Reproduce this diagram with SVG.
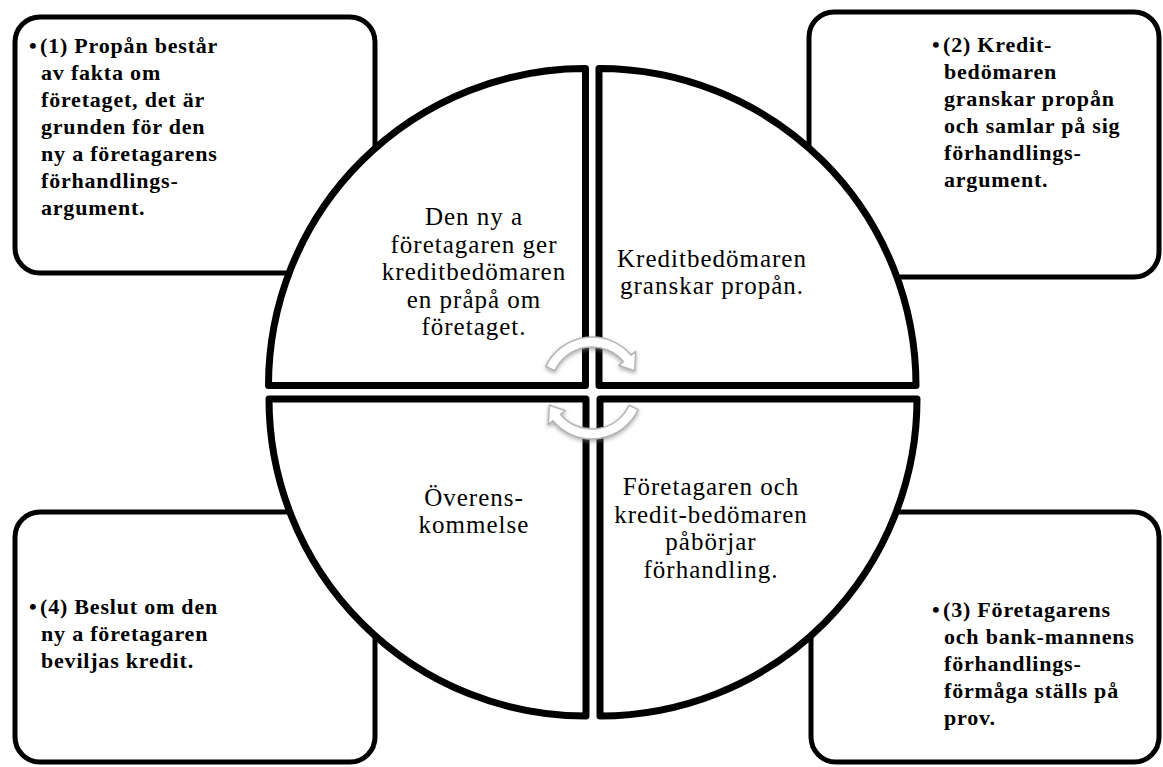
<svg xmlns="http://www.w3.org/2000/svg" width="1163" height="767" viewBox="0 0 1163 767">
<defs>
<style>
.box{fill:#fff;stroke:#000;stroke-width:5}
.quad{fill:#fff;stroke:#000;stroke-width:7;stroke-linejoin:round}
.bt{font-family:"Liberation Serif","Times New Roman",serif;font-weight:bold;font-size:22px;letter-spacing:0.8px;fill:#000}
.ct{font-family:"Liberation Serif","Times New Roman",serif;font-size:25px;letter-spacing:1px;fill:#000;text-anchor:middle}
.arr{fill:#fff;stroke:#b4b4b4;stroke-width:1.5;stroke-linejoin:round;filter:url(#sh)}
</style>
<filter id="sh" x="-30%" y="-30%" width="160%" height="160%">
<feDropShadow dx="0" dy="2" stdDeviation="2" flood-color="#777" flood-opacity="0.6"/>
</filter>
</defs>
<rect width="1163" height="767" fill="#fff"/>
<g id="box1">
<rect class="box" x="15" y="17" width="360" height="256" rx="25"/>
<text class="bt"><tspan x="29" y="53">•</tspan><tspan x="40" y="53">(1) Propån består</tspan><tspan x="41" y="80">av fakta om</tspan><tspan x="41" y="107">företaget, det är</tspan><tspan x="41" y="134">grunden för den</tspan><tspan x="41" y="161">ny a företagarens</tspan><tspan x="41" y="188">förhandlings-</tspan><tspan x="41" y="215">argument.</tspan></text>
</g>
<g id="box2">
<rect class="box" x="809" y="12" width="350" height="265" rx="25"/>
<text class="bt"><tspan x="932" y="52">•</tspan><tspan x="943" y="52">(2) Kredit-</tspan><tspan x="944" y="79">bedömaren</tspan><tspan x="944" y="106">granskar propån</tspan><tspan x="944" y="133">och samlar på sig</tspan><tspan x="944" y="160">förhandlings-</tspan><tspan x="944" y="187">argument.</tspan></text>
</g>
<g id="box4">
<rect class="box" x="15" y="512" width="360" height="250" rx="25"/>
<text class="bt"><tspan x="29" y="614">•</tspan><tspan x="40" y="614">(4) Beslut om den</tspan><tspan x="41" y="641">ny a företagaren</tspan><tspan x="41" y="668">beviljas kredit.</tspan></text>
</g>
<g id="box3">
<rect class="box" x="811" y="512" width="348" height="250" rx="25"/>
<text class="bt"><tspan x="932" y="617">•</tspan><tspan x="943" y="617">(3) Företagarens</tspan><tspan x="944" y="644">och bank-mannens</tspan><tspan x="944" y="671">förhandlings-</tspan><tspan x="944" y="698">förmåga ställs på</tspan><tspan x="944" y="725">prov.</tspan></text>
</g>
<g id="q1">
<path class="quad" d="M585.5,385.5 L268.5,385.5 A317,317 0 0 1 585.5,68.5 Z"/>
<text class="ct"><tspan x="474" y="225">Den ny a</tspan><tspan x="474" y="252.5">företagaren ger</tspan><tspan x="474" y="280">kreditbedömaren</tspan><tspan x="474" y="307.5">en pråpå om</tspan><tspan x="474" y="335">företaget.</tspan></text>
</g>
<g id="q2">
<path class="quad" d="M599,385.5 L599,68.5 A317,317 0 0 1 916,385.5 Z"/>
<text class="ct"><tspan x="712" y="266.5">Kreditbedömaren</tspan><tspan x="712" y="294">granskar propån.</tspan></text>
</g>
<g id="q3">
<path class="quad" d="M600,399 L917,399 A317,317 0 0 1 600,716 Z"/>
<text class="ct"><tspan x="711" y="495">Företagaren och</tspan><tspan x="711" y="522.5">kredit-bedömaren</tspan><tspan x="711" y="550">påbörjar</tspan><tspan x="711" y="577.5">förhandling.</tspan></text>
</g>
<g id="q4">
<path class="quad" d="M586,399 L586,716 A317,317 0 0 1 269,399 Z"/>
<text class="ct"><tspan x="474" y="505.5">Överens-</tspan><tspan x="474" y="533">kommelse</tspan></text>
</g>
<g id="connectors">
<path class="arr" d="M545.8,366.4 A51,51 0 0 1 631.1,355.2 L635.7,351.4 L634.7,370.8 L618.8,365.5 L623.4,361.6 A41,41 0 0 0 554.8,370.7 Z"/>
<path class="arr" d="M638.2,409.6 A51,51 0 0 1 552.9,420.8 L548.3,424.6 L549.3,405.2 L565.2,410.5 L560.6,414.4 A41,41 0 0 0 629.2,405.3 Z"/>
</g>
</svg>
